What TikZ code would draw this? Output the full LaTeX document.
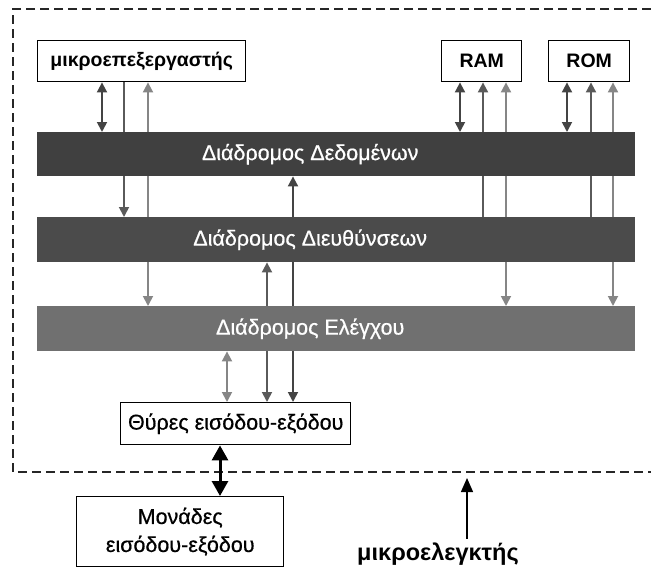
\documentclass[tikz,border=0pt]{standalone}
\usepackage{fontspec}
\setmainfont{Liberation Sans}
\newfontfamily\medfont[FakeBold=0.6]{Liberation Sans}
\usetikzlibrary{arrows.meta}
\definecolor{busdata}{HTML}{404040}
\definecolor{busaddr}{HTML}{4B4B4B}
\definecolor{busctrl}{HTML}{707070}
\definecolor{lndata}{HTML}{444444}
\definecolor{lnaddr}{HTML}{5A5A5A}
\definecolor{lnctrl}{HTML}{868686}
\pgfdeclarelayer{bg}
\pgfsetlayers{bg,main}
\begin{document}
\begin{tikzpicture}[x=1pt,y=-1pt,
  >={Triangle[width=10pt,length=10pt]},
  box/.style={draw=black,line width=1.4pt,fill=white,inner sep=0pt,anchor=north west,
    font=\fontsize{19.5}{22}\selectfont\bfseries},
  plainbox/.style={draw=black,line width=1.4pt,fill=white,inner sep=0pt,anchor=north west,
    font=\medfont\fontsize{21.5}{28}\selectfont,align=center},
  bus/.style={inner sep=0pt,anchor=north west,minimum width=598pt},
  buslabel/.style={text=white,inner sep=0pt,font=\medfont\fontsize{21.5}{24}\selectfont},
  dline/.style={draw=lndata,line width=1.8pt},
  aline/.style={draw=lnaddr,line width=1.8pt},
  cline/.style={draw=lnctrl,line width=1.8pt},
  frame/.style={draw=black!85,line width=1.6pt,dash pattern=on 9pt off 5pt}
]
\useasboundingbox (0,0) rectangle (651,568);

% outer dashed frame (right side outside the picture)
\draw[frame] (651,9) -- (13,9) -- (13,472) -- (651,472);

% boxes
\node[box,minimum width=208pt,minimum height=41pt] (cpu) at (37,40) {μικροεπεξεργαστής};
\node[box,minimum width=80pt,minimum height=41pt] (ram) at (441,40) {RAM};
\node[box,minimum width=81pt,minimum height=41pt] (rom) at (548,40) {ROM};

% buses
\node[bus,fill=busdata,minimum height=44pt] (data) at (37,132) {};
\node[bus,fill=busaddr,minimum height=45pt] (addr) at (37,217) {};
\node[bus,fill=busctrl,minimum height=45pt] (ctrl) at (37,306) {};
\node[buslabel] (datal) at ([xshift=-26pt]data.center) {Διάδρομος Δεδομένων};
\node[buslabel] (addrl) at ([xshift=-26pt]addr.center) {Διάδρομος Διευθύνσεων};
\node[buslabel] (ctrll) at ([xshift=-26pt]ctrl.center) {Διάδρομος Ελέγχου};

\node[plainbox,minimum width=230pt,minimum height=42pt] (ports) at (120,402) {Θύρες εισόδου-εξόδου};
\node[plainbox,minimum width=207pt,minimum height=70pt] (units) at (76,496) {Μονάδες\\εισόδου-εξόδου};

\node[anchor=base,font=\fontsize{23.5}{26}\selectfont\bfseries] (mc) at (438,560) {μικροελεγκτής};

% column positions
\coordinate (k1) at (102,0);
\coordinate (k2) at (124,0);
\coordinate (k3) at (148,0);
\coordinate (r1) at (460,0);
\coordinate (r2) at (483,0);
\coordinate (r3) at (506,0);
\coordinate (o1) at (567,0);
\coordinate (o2) at (591,0);
\coordinate (o3) at (613,0);
\coordinate (p1) at (227,0);
\coordinate (p2) at (267,0);
\coordinate (p3) at (293,0);
\coordinate (p0) at (220,0);
\coordinate (m1) at (467,0);
\coordinate (mtip) at (467,478);

\begin{pgfonlayer}{bg}
% microprocessor
\draw[dline,<->] (k1 |- cpu.south) -- (k1 |- data.north);
\draw[aline,->] (k2 |- cpu.south) -- (k2 |- addr.north);
\draw[cline,<->] (k3 |- cpu.south) -- (k3 |- ctrl.north);
% RAM
\draw[dline,<->] (r1 |- ram.south) -- (r1 |- data.north);
\draw[aline,<-] (r2 |- ram.south) -- (r2 |- addr.north);
\draw[cline,<->] (r3 |- ram.south) -- (r3 |- ctrl.north);
% ROM
\draw[dline,<->] (o1 |- rom.south) -- (o1 |- data.north);
\draw[aline,<-] (o2 |- rom.south) -- (o2 |- addr.north);
\draw[cline,<->] (o3 |- rom.south) -- (o3 |- ctrl.north);
% ports
\draw[cline,<->] (p1 |- ctrl.south) -- (p1 |- ports.north);
\draw[aline,<->] (p2 |- addr.south) -- (p2 |- ports.north);
\draw[dline,<->] (p3 |- data.south) -- (p3 |- ports.north);
\end{pgfonlayer}

% ports to units
\draw[line width=3pt,{Triangle[width=16pt,length=15pt]}-{Triangle[width=16pt,length=15pt]}]
  (p0 |- ports.south) -- (p0 |- units.north);

% label arrow
\draw[line width=1.3pt,-{Triangle[width=12pt,length=14pt]}] (m1 |- mc.north) -- (mtip);
\end{tikzpicture}
\end{document}
